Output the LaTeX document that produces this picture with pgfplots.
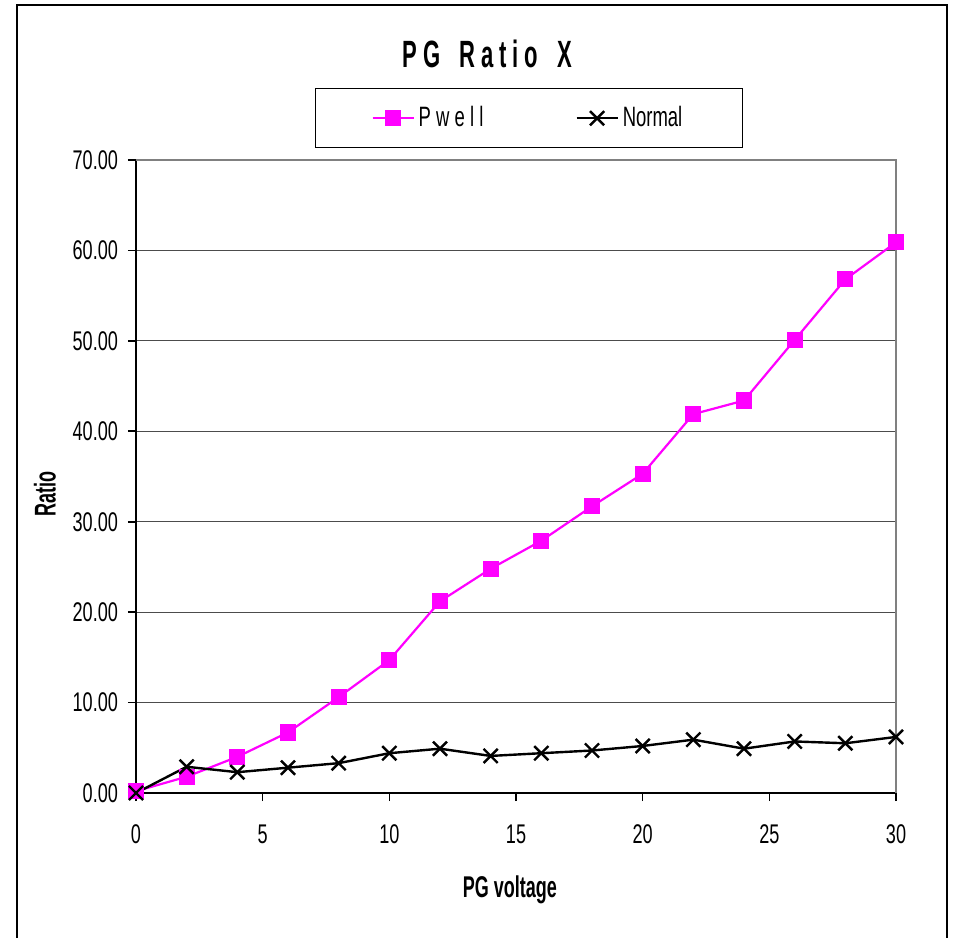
\documentclass[border=0pt]{standalone}
\usepackage{fontspec}
\setmainfont{Liberation Sans}
\newfontfamily\tickfont[FakeStretch=0.67]{Liberation Sans}
\newfontfamily\legfont[FakeStretch=0.66]{Liberation Sans}
\newfontfamily\lblfont[FakeStretch=0.6]{Liberation Sans}
\newfontfamily\ttlfont[FakeStretch=0.58]{Liberation Sans}
\usepackage{pgfplots}
\usepackage{pgfplotstable}
\pgfplotsset{compat=1.18}
\definecolor{pwell}{HTML}{FF00FF}

\pgfplotstableread{
v ratio
0 0.2
2 1.8
4 4.0
6 6.7
8 10.6
10 14.7
12 21.2
14 24.8
16 27.9
18 31.7
20 35.3
22 41.9
24 43.4
26 50.1
28 56.8
30 60.9
}\pwelldata

\pgfplotstableread{
v ratio
0 0.0
2 2.9
4 2.3
6 2.8
8 3.3
10 4.4
12 4.9
14 4.1
16 4.4
18 4.7
20 5.2
22 5.9
24 4.9
26 5.7
28 5.5
30 6.2
}\normaldata

% letter and word spacing of the title
\newcommand\ls{\kern3pt}
\newcommand\ws{\kern9.5pt}

\begin{document}
\begin{tikzpicture}
\path[use as bounding box] (0pt,0pt) rectangle (476.5pt,468.5pt);
% outer chart frame
\draw[line width=1pt] (8.5pt,-2pt) -- (8.5pt,466pt) -- (473.5pt,466pt) -- (473.5pt,-2pt);
\begin{axis}[
  at={(68pt,72pt)}, anchor=south west,
  scale only axis, width=380pt, height=316.5pt,
  xmin=0, xmax=30, ymin=0, ymax=70,
  xtick={0,5,...,30}, ytick={0,10,...,70},
  axis lines=left,
  axis line style={-, black, line width=0.8pt},
  tick align=outside,
  major tick length=4pt,
  tick style={black, line width=0.8pt},
  ymajorgrids,
  major grid style={black!70, line width=0.6pt},
  clip=false,
  /pgf/number format/assume math mode=true,
  yticklabel style={/pgf/number format/fixed, /pgf/number format/fixed zerofill, /pgf/number format/precision=2},
  tick label style={font=\tickfont\fontsize{13.5}{15}\selectfont},
  xticklabel style={yshift=-8.5pt},
  yticklabel style={xshift=-1.5pt},
  title={P\ls G\ws R\ls a\ls t\ls i\ls o\ws X},
  title style={font=\ttlfont\bfseries\fontsize{19}{21}\selectfont, at={(0.462,1.148)}, anchor=center, yshift=0pt},
  xlabel={PG voltage},
  xlabel style={font=\lblfont\bfseries\fontsize{15}{17}\selectfont, at={(0.492,-0.153)}, anchor=center},
  ylabel={Ratio},
  ylabel style={font=\lblfont\bfseries\fontsize{15}{17}\selectfont, at={(-0.12,0.472)}, anchor=center, rotate=0},
  legend columns=2,
  legend image code/.code={\draw[mark repeat=2,mark phase=2] plot coordinates {(0pt,0pt) (10.25pt,0pt) (20.5pt,0pt)};},
  legend style={at={(0.517,1.066)}, anchor=center, draw=black, line width=0.5pt,
    inner xsep=28pt, inner ysep=7pt,
    font=\legfont\fontsize{14}{16}\selectfont,
    /tikz/every even column/.append style={column sep=44pt}},
]
\addplot[pwell, line width=1.1pt, mark=square*, mark size=3.5pt, mark options={solid}] table[x=v, y=ratio] {\pwelldata};
\addlegendentry{P w e l l}
\addplot[black, line width=1.2pt, mark=x, mark size=5pt] table[x=v, y=ratio] {\normaldata};
\addlegendentry{Normal}
% plot area border on the top and right
\draw[gray, line width=0.8pt] (rel axis cs:0,1) -- (rel axis cs:1,1) -- (rel axis cs:1,0);
\end{axis}
\end{tikzpicture}
\end{document}
